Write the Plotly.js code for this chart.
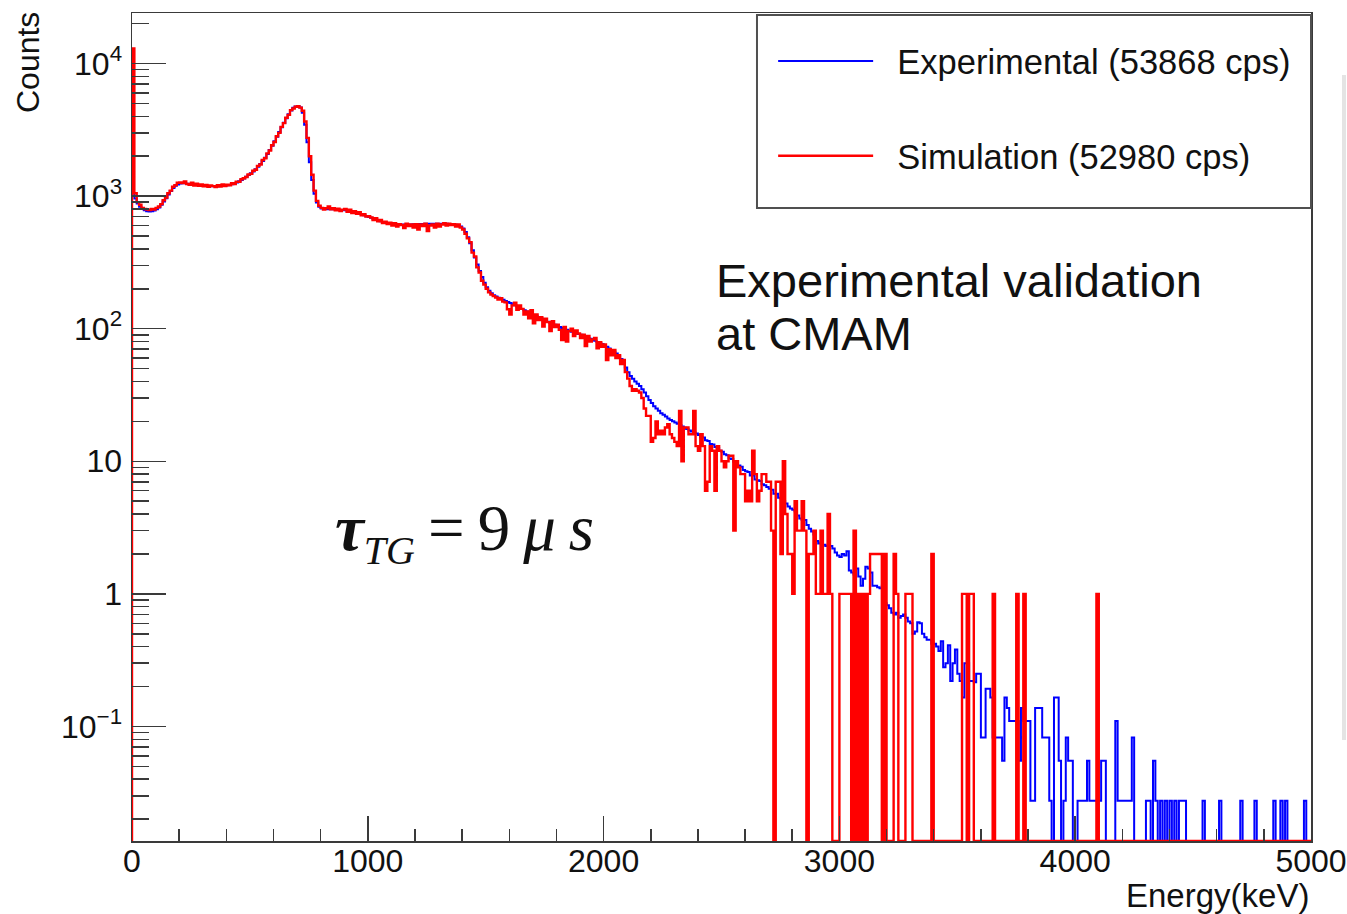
<!DOCTYPE html>
<html><head><meta charset="utf-8">
<script src="https://cdn.plot.ly/plotly-3.0.1.min.js"></script>
<style>html,body{margin:0;padding:0;background:#fff;}#chart{width:1347px;height:914px;}</style>
</head><body><div id="chart"></div>
<script>
// Histogram binning (keV)
const energyMin = 0;
const binWidth = 10;

// Experimental spectrum, counts per 10 keV bin (0 ... 5000 keV)
const expCounts = [
1050, 960, 880, 830, 800, 782, 770, 765, 768, 778,
795, 820, 860, 910, 965, 1030, 1095, 1150, 1195, 1225,
1245, 1250, 1248, 1240, 1232, 1225, 1220, 1214, 1208, 1203,
1198, 1194, 1190, 1188, 1186, 1186, 1188, 1190, 1193, 1198,
1205, 1215, 1228, 1245, 1268, 1295, 1325, 1360, 1400, 1440,
1485, 1535, 1595, 1665, 1745, 1840, 1950, 2080, 2230, 2400,
2590, 2800, 3040, 3300, 3580, 3870, 4150, 4420, 4640, 4750,
4780, 4650, 4250, 3450, 2550, 1800, 1320, 1040, 895, 830,
805, 800, 798, 797, 796, 795, 793, 790, 787, 784,
781, 776, 770, 762, 753, 744, 735, 726, 716, 706,
697, 686, 676, 666, 656, 647, 639, 632, 626, 621,
617, 614, 612, 611, 610, 610, 610, 611, 612, 613,
614, 615, 616, 617, 618, 618, 619, 619, 620, 620,
620, 620, 619, 618, 616, 614, 611, 607, 600, 590,
570, 535, 490, 440, 390, 345, 305, 272, 245, 222,
205, 193, 185, 179, 175, 171, 168, 165, 162, 159,
156, 153, 150, 147, 144, 141, 138, 135, 132, 129,
127, 125, 122, 120, 118, 115, 113, 111, 109, 107,
105, 103, 101, 99.5, 98, 96.5, 95, 93.5, 92, 91,
90, 88.5, 87, 85.5, 84, 82.5, 81, 79.5, 78, 76.5,
75, 73, 71, 69, 67, 65, 62, 59, 55, 51,
47, 44, 42, 40, 38.5, 37, 35, 33, 31, 29,
27.5, 26, 25, 24, 23, 22.4, 21.8, 21, 20.5, 20,
19.6, 19.2, 18.8, 18.3, 17.9, 17.5, 17.1, 16.8, 16.5, 16.2,
15.8, 15.2, 15.1, 14.4, 14.2, 13.5, 13.4, 12.8, 12.6, 12.0,
11.8, 11.3, 11.1, 10.5, 10.4, 9.9, 9.8, 9.3, 9.1, 8.6,
8.4, 8.3, 7.8, 7.8, 7.3, 7.2, 7.1, 6.7, 6.6, 6.4,
6.2, 6.1, 5.7, 5.7, 5.3, 5.25, 5.0, 4.8, 4.55, 4.4,
4.3, 4.2, 3.9, 3.7, 3.6, 3.6, 3.3, 3.1, 2.95, 2.8,
2.5, 2.4, 2.45, 2.35, 2.3, 2.35, 2.3, 2.2, 2.05, 1.95,
1.9, 2.0, 1.95, 2.1, 1.5, 1.45, 1.4, 1.55, 1.35, 1.15,
1.3, 1.6, 1.55, 1.45, 1.15, 1.15, 1.12, 1.1, 1.15, 0.85,
0.82, 0.78, 0.72, 0.7, 0.72, 0.66, 0.68, 0.7, 0.66, 0.62,
0.6, 0.5, 0.52, 0.61, 0.6, 0.5, 0.47, 0.45, 0.45, 0.42,
0.42, 0.4, 0.37, 0.44, 0.28, 0.3, 0.41, 0.22, 0.3, 0.38,
0.25, 0.22, 0.165, 0.3, 0.3, 0.22, 0.22, 0.215, 0.25, 0.25,
0.0825, 0.0825, 0.1925, 0.1925, 0.165, 0.0825, 0.0825, 0.0825, 0.0825, 0.055,
0.165, 0.1375, 0.11, 0.11, 0.11, 0.11, 0.055, 0.1375, 0.11, 0.11,
0.11, 0.0275, 0.0275, 0.1375, 0.1375, 0.1375, 0.0825, 0.0825, 0.0825, 0.0275,
0, 0.165, 0.165, 0.055, 0, 0.0275, 0.0825, 0.055, 0.055, 0,
0, 0.0275, 0.0275, 0.0275, 0.0275, 0.055, 0.0275, 0.0275, 0.0275, 0.0275,
0.0275, 0.055, 0.055, 0, 0, 0, 0, 0.11, 0.0275, 0.0275,
0.0275, 0.0275, 0.0275, 0.0275, 0.0825, 0, 0, 0, 0, 0,
0.0275, 0.0275, 0, 0.055, 0.0275, 0, 0.0275, 0, 0.0275, 0,
0.0275, 0, 0.0275, 0, 0.0275, 0.0275, 0.0275, 0, 0, 0,
0, 0, 0, 0, 0.0275, 0, 0, 0, 0, 0,
0, 0.0275, 0, 0, 0, 0, 0, 0, 0, 0,
0.0275, 0, 0, 0, 0, 0, 0.0275, 0, 0, 0,
0, 0, 0, 0, 0.0275, 0, 0, 0.0275, 0, 0.0275,
0, 0, 0, 0, 0, 0, 0, 0.0275, 0, 0
];

// Simulated spectrum, counts per 10 keV bin (0 ... 5000 keV)
const simCounts = [
13000, 1050, 900, 860, 815, 800, 790, 785, 800, 790,
815, 835, 870, 930, 975, 1050, 1100, 1175, 1210, 1260,
1270, 1255, 1290, 1235, 1215, 1260, 1200, 1240, 1195, 1225,
1185, 1215, 1175, 1205, 1190, 1170, 1210, 1180, 1225, 1190,
1220, 1205, 1250, 1235, 1285, 1280, 1340, 1365, 1395, 1455,
1470, 1555, 1580, 1690, 1730, 1870, 1930, 2100, 2210, 2420,
2560, 2830, 3000, 3330, 3550, 3900, 4100, 4450, 4580, 4720,
4760, 4650, 4400, 3650, 2750, 2000, 1450, 1100, 920, 845,
815, 790, 810, 835, 795, 810, 780, 805, 770, 790,
800, 760, 790, 745, 770, 735, 755, 715, 730, 700,
705, 690, 660, 680, 645, 660, 625, 640, 615, 630,
600, 625, 590, 615, 605, 575, 620, 595, 610, 580,
615, 560, 610, 595, 620, 545, 600, 610, 580, 620,
590, 610, 625, 600, 620, 605, 615, 590, 610, 580,
560, 520, 480, 450, 375, 350, 290, 265, 230, 215,
200, 188, 181, 176, 172, 166, 170, 160, 158, 140,
128, 150, 157, 139, 150, 141, 128, 135, 120, 138,
110, 128, 116, 122, 104, 119, 112, 96, 114, 103,
107, 98, 82, 103, 80, 96, 100, 88, 97, 92,
85, 90, 74, 88, 80, 83, 85, 71, 79, 73,
76, 58, 70, 63, 69, 60, 63, 54, 58, 47,
42, 37, 34, 35, 34, 33, 30, 25, 22, 22,
14, 15, 20, 16, 17, 16, 18, 19, 16, 15,
14, 13, 24, 10, 18, 18, 16, 16, 24, 13,
12, 16, 13, 6, 7, 13, 12, 6, 13, 12,
10, 9, 10, 11, 11, 3, 10, 9, 8, 8,
5, 6, 5, 12, 8, 5, 6, 8, 8, 7,
7, 3, 0, 7, 7, 2, 10, 4, 2, 2,
1, 5, 3, 3, 5, 3, 0, 2, 2, 3,
1, 1, 3, 1, 1, 4, 1, 0, 0, 0,
1, 1, 1, 1, 1, 0, 3, 0, 1, 0,
1, 0, 1, 2, 2, 2, 2, 2, 0, 2,
0, 0, 0, 2, 1, 0, 0, 0, 1, 1,
1, 0, 0, 0, 0, 0, 0, 0, 0, 2,
0, 0, 0, 0, 0, 0, 0, 0, 0, 0,
0, 0, 1, 1, 0, 1, 1, 0, 0, 0,
0, 0, 0, 0, 0, 1, 0, 0, 0, 0,
0, 0, 0, 0, 0, 1, 0, 0, 1, 0,
0, 0, 0, 0, 0, 0, 0, 0, 0, 0,
0, 0, 0, 0, 0, 0, 0, 0, 0, 0,
0, 0, 0, 0, 0, 0, 0, 0, 0, 1,
0, 0, 0, 0, 0, 0, 0, 0, 0, 0,
0, 0, 0, 0, 0, 0, 0, 0, 0, 0,
0, 0, 0, 0, 0, 0, 0, 0, 0, 0,
0, 0, 0, 0, 0, 0, 0, 0, 0, 0,
0, 0, 0, 0, 0, 0, 0, 0, 0, 0,
0, 0, 0, 0, 0, 0, 0, 0, 0, 0,
0, 0, 0, 0, 0, 0, 0, 0, 0, 0,
0, 0, 0, 0, 0, 0, 0, 0, 0, 0,
0, 0, 0, 0, 0, 0, 0, 0, 0, 0
];

const seriesNames = ['Experimental (53868 cps)', 'Simulation (52980 cps)'];
const xTickVals = [0, 1000, 2000, 3000, 4000, 5000];
const yTickVals = [0.1, 1, 10, 100, 1000, 10000];
const yTickText = ['10<sup>\u22121</sup>', '1', '10', '10<sup>2</sup>', '10<sup>3</sup>', '10<sup>4</sup>'];

if (expCounts.length !== 500 || simCounts.length !== 500) {
  throw new Error('bad lengths ' + expCounts.length + ' ' + simCounts.length);
}

const yRange = [-1.864, 4.381];
const yFloor = Math.pow(10, yRange[0]);

function stepXY(counts) {
  const x = [energyMin], y = [yFloor];
  counts.forEach(function (c, i) {
    x.push(energyMin + i * binWidth);
    y.push(c > 0 ? c : yFloor);
  });
  x.push(energyMin + counts.length * binWidth);
  y.push(y[y.length - 1]);
  return {x: x, y: y};
}

const minorY = [];
for (let d = -2; d <= 4; d++) for (let k = 2; k <= 9; k++) minorY.push(k * Math.pow(10, d));

const font = 'Liberation Sans, Arial, Helvetica, sans-serif';
const nb = '\u00A0\u00A0';
const e = stepXY(expCounts), s = stepXY(simCounts);

const traces = [
  {x: e.x, y: e.y, type: 'scatter', mode: 'lines', line: {shape: 'hv', color: '#0000ff', width: 2},
   name: nb + seriesNames[0], legendgroup: 'a'},
  {x: s.x, y: s.y, type: 'scatter', mode: 'lines', line: {shape: 'hv', color: '#ff0000', width: 2.4},
   name: nb + seriesNames[1], legendgroup: 'b'}
];

const axisLine = '#3a3a3a';
const layout = {
  width: 1347, height: 914,
  margin: {l: 132, r: 36, t: 13, b: 73},
  paper_bgcolor: '#ffffff', plot_bgcolor: '#ffffff',
  font: {family: font, color: '#111'},
  showlegend: true,
  legend: {x: 0.5438, y: 0.977, xanchor: 'left', yanchor: 'top', bgcolor: 'rgba(0,0,0,0)',
           font: {family: font, size: 34.5, color: '#111'}, itemwidth: 95, tracegroupgap: 47},
  xaxis: {range: [0, 5000], showline: true, linecolor: axisLine, linewidth: 1.5, mirror: true,
          ticks: 'inside', ticklen: 25, tickwidth: 1.5, tickcolor: axisLine,
          tickmode: 'array', tickvals: xTickVals, ticktext: xTickVals.map(String),
          minor: {ticks: 'inside', ticklen: 12, tickwidth: 1.5, tickcolor: axisLine, dtick: 200, tick0: 0},
          tickfont: {family: font, size: 32, color: '#111'}, showgrid: false, zeroline: false,
          ticklabelstandoff: -9},
  yaxis: {type: 'log', range: yRange, showline: true, linecolor: axisLine, linewidth: 1.5, mirror: true,
          ticks: 'inside', ticklen: 34, tickwidth: 1.5, tickcolor: axisLine,
          tickmode: 'array', tickvals: yTickVals, ticktext: yTickText,
          minor: {ticks: 'inside', ticklen: 17, tickwidth: 1.5, tickcolor: axisLine, tickmode: 'array', tickvals: minorY},
          tickfont: {family: font, size: 32, color: '#111'}, showgrid: false, zeroline: false,
          ticklabelstandoff: 2},
  shapes: [
    {type: 'rect', xref: 'paper', yref: 'paper', x0: 0.5301, x1: 1.0, y0: 0.7645, y1: 0.9976,
     line: {color: '#505050', width: 2}, fillcolor: 'rgba(0,0,0,0)'},
    {type: 'line', xref: 'paper', yref: 'paper', x0: 1.028, x1: 1.028, y0: 0.122, y1: 0.925,
     line: {color: '#e4e4e4', width: 4}}
  ],
  annotations: [
    {text: 'Counts', xref: 'paper', yref: 'paper', x: -0.0882, y: 0.9396, textangle: -90,
     showarrow: false, font: {family: font, size: 32, color: '#111'}, xanchor: 'center', yanchor: 'middle'},
    {text: 'Energy(keV)', xref: 'paper', yref: 'paper', x: 1.0, y: -0.066, showarrow: false,
     font: {family: font, size: 33, color: '#111'}, xanchor: 'right', yanchor: 'middle'},
    {text: 'Experimental validation', xref: 'paper', yref: 'paper', x: 0.4936, y: 0.6775, showarrow: false,
     font: {family: font, size: 47, color: '#111'}, xanchor: 'left', yanchor: 'middle'},
    {text: 'at CMAM', xref: 'paper', yref: 'paper', x: 0.4936, y: 0.6135, showarrow: false,
     font: {family: font, size: 47, color: '#111'}, xanchor: 'left', yanchor: 'middle'},
    {text: '<b><i>\u03C4</i></b><sub><span style="font-size:40px"><i>TG</i></span></sub>\u2009=\u20099\u2009<i>\u03BC\u2009s</i>', xref: 'paper', yref: 'paper',
     x: 0.1705, y: 0.372, showarrow: false,
     font: {family: 'Liberation Serif, Times New Roman, serif', size: 65, color: '#111'},
     xanchor: 'left', yanchor: 'middle'}
  ]
};

Plotly.newPlot('chart', traces, layout, {displayModeBar: false, staticPlot: true});
</script>
</body></html>
